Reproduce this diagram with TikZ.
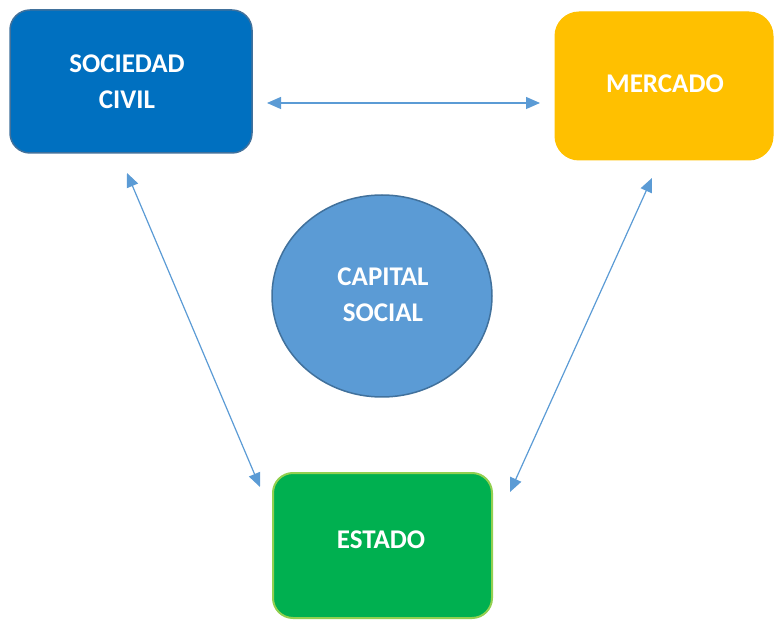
\documentclass[tikz,border=0pt]{standalone}
\usepackage{fontspec}
\setmainfont{Carlito}
\usetikzlibrary{arrows.meta}
\definecolor{socblue}{HTML}{0070C0}
\definecolor{socborder}{HTML}{41719C}
\definecolor{mercfill}{HTML}{FFC000}
\definecolor{estfill}{HTML}{00B050}
\definecolor{estborder}{HTML}{92D050}
\definecolor{capfill}{HTML}{5B9BD5}
\definecolor{arrowblue}{HTML}{5B9BD5}
\tikzset{
  boxtext/.style={text=white, font=\fontsize{27}{36}\selectfont\bfseries, align=center, inner sep=0pt},
  conn/.style={draw=arrowblue, line width=1.2pt, {Triangle[length=14pt,width=12pt]}-{Triangle[length=14pt,width=12pt]}}
}
\begin{document}
\begin{tikzpicture}[x=1pt,y=-1pt]
\useasboundingbox (0,0) rectangle (777,620);
% shapes
\draw[fill=socblue, draw=socborder, line width=1.5pt, rounded corners=20pt] (10,10) rectangle (252,153);
\draw[fill=mercfill, draw=mercfill, line width=1pt, rounded corners=24pt] (555,12) rectangle (773,160);
\draw[fill=estfill, draw=estborder, line width=2pt, rounded corners=20pt] (273,473) rectangle (492,618);
\draw[fill=capfill, draw=socborder, line width=1.5pt] (382,296) ellipse [x radius=110, y radius=101];
% labels
\node[boxtext] (soc) at (127,82) {SOCIEDAD\\CIVIL};
\node[boxtext] (mer) at (665,84) {MERCADO};
\node[boxtext] (est) at (381,540) {ESTADO};
\node[boxtext] (cap) at (383,295) {CAPITAL\\SOCIAL};
% connector ends
\coordinate (a1) at (267,103);
\coordinate (a2) at (540,103);
\coordinate (b1) at (127,173);
\coordinate (b2) at (260,487);
\coordinate (c1) at (652,178);
\coordinate (c2) at (510,492);
\draw[conn] (a1) -- (a2);
\draw[conn] (b1) -- (b2);
\draw[conn] (c1) -- (c2);
\end{tikzpicture}
\end{document}
